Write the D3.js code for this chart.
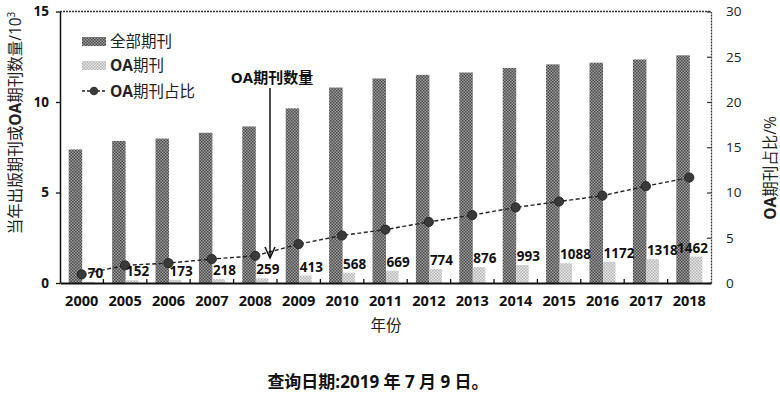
<!DOCTYPE html>
<html>
<head>
<meta charset="utf-8">
<script src="https://cdn.jsdelivr.net/npm/d3@7"></script>
<style>
  body { margin: 0; background: #fff; }
  svg text { font-family: "Open Sans", "Noto Sans CJK SC", sans-serif; }
</style>
</head>
<body>
<svg id="chart" width="780" height="393"></svg>
<script>
// values
var years = ["2000", "2005", "2006", "2007", "2008", "2009", "2010", "2011",
             "2012", "2013", "2014", "2015", "2016", "2017", "2018"];
var allJournals = [7.38, 7.85, 7.98, 8.3, 8.65, 9.65, 10.8, 11.3,
                   11.5, 11.63, 11.88, 12.08, 12.17, 12.35, 12.58];   // x10^3
var oaJournals = [70, 152, 173, 218, 259, 413, 568, 669,
                  774, 876, 993, 1088, 1172, 1318, 1462];
var oaShare = [0.95, 1.95, 2.2, 2.65, 3.0, 4.3, 5.25, 5.9,
               6.75, 7.5, 8.35, 9.0, 9.65, 10.7, 11.65];              // %
var leftTicks = [0, 5, 10, 15];
var rightTicks = [0, 5, 10, 15, 20, 25, 30];

var svg = d3.select("#chart");
var plotLeft = 60, plotRight = 711, plotTop = 11.5, plotBottom = 283;

var defs = svg.append("defs");
var dark = defs.append("pattern").attr("id", "darkFill")
    .attr("patternUnits", "userSpaceOnUse").attr("width", 3).attr("height", 3);
dark.append("rect").attr("width", 3).attr("height", 3).attr("fill", "#a0a0a0");
dark.append("path").attr("d", "M0,0h1.5v1.5h-1.5z M1.5,1.5h1.5v1.5h-1.5z").attr("fill", "#484848");

var light = defs.append("pattern").attr("id", "lightFill")
    .attr("patternUnits", "userSpaceOnUse").attr("width", 3).attr("height", 3);
light.append("rect").attr("width", 3).attr("height", 3).attr("fill", "#e8e8e8");
light.append("path").attr("d", "M0,0h1.5v1.5h-1.5z M1.5,1.5h1.5v1.5h-1.5z").attr("fill", "#b4b4b4");

var x = d3.scaleBand().domain(years).range([plotLeft, plotRight]);
var inner = d3.scaleBand().domain(["all", "oa"]).range([-13, 14]);
var y = d3.scaleLinear().domain([0, 15]).range([plotBottom, plotTop]);
var y2 = d3.scaleLinear().domain([0, 30]).range([plotBottom, plotTop]);

function mid(i) { return x(years[i]) + x.bandwidth() / 2; }

// bars
svg.append("g").selectAll("rect").data(allJournals).join("rect")
    .attr("x", function(d, i) { return mid(i) + inner("all"); })
    .attr("width", inner.bandwidth())
    .attr("y", function(d) { return y(d); })
    .attr("height", function(d) { return y(0) - y(d); })
    .attr("fill", "url(#darkFill)");

svg.append("g").selectAll("rect").data(oaJournals).join("rect")
    .attr("x", function(d, i) { return mid(i) + inner("oa"); })
    .attr("width", inner.bandwidth() - 1)
    .attr("y", function(d) { return y(d / 1000); })
    .attr("height", function(d) { return y(0) - y(d / 1000); })
    .attr("fill", "url(#lightFill)");

// share line
var line = d3.line()
    .x(function(d, i) { return mid(i); })
    .y(function(d) { return y2(d); });
svg.append("path").datum(oaShare)
    .attr("d", line)
    .attr("fill", "none")
    .attr("stroke", "#222")
    .attr("stroke-width", 1.4)
    .attr("stroke-dasharray", "4,2.5");
svg.append("g").selectAll("circle").data(oaShare).join("circle")
    .attr("cx", function(d, i) { return mid(i); })
    .attr("cy", function(d) { return y2(d); })
    .attr("r", 4.6)
    .attr("fill", "#3a3a3a")
    .attr("stroke", "#1a1a1a")
    .attr("stroke-width", 0.8);

// OA count labels (the last one is pulled in so it stays inside the frame)
var last = oaJournals.length - 1;
svg.append("g").selectAll("text").data(oaJournals).join("text")
    .attr("x", function(d, i) {
        if (i === last) return plotRight - 3;
        return mid(i) + (i === 0 ? 6 : 1);
    })
    .attr("text-anchor", function(d, i) { return i === last ? "end" : "start"; })
    .attr("y", function(d) { return y(d / 1000) - 4; })
    .attr("font-size", 13.5)
    .attr("font-weight", "bold")
    .attr("fill", "#111")
    .text(function(d) { return d; });

// axes
var axisL = d3.axisLeft(y).tickValues(leftTicks).tickSize(4).tickSizeOuter(0);
var gl = svg.append("g").attr("transform", "translate(" + plotLeft + ",0)").call(axisL);
gl.select(".domain").attr("stroke", "#111").attr("stroke-width", 1.5);
gl.selectAll(".tick line").attr("stroke", "#111").attr("stroke-width", 1.3);
gl.selectAll("text").attr("font-size", 13.5).attr("font-weight", "bold")
    .attr("fill", "#111").attr("x", -11);

var axisR = d3.axisRight(y2).tickValues(rightTicks).tickSize(-4).tickSizeOuter(0);
var gr = svg.append("g").attr("transform", "translate(" + plotRight + ",0)").call(axisR);
gr.select(".domain").attr("stroke", "#333").attr("stroke-width", 1.3).attr("stroke-dasharray", "2,1");
gr.selectAll(".tick line").attr("stroke", "#333").attr("stroke-width", 1.2);
gr.selectAll("text").attr("font-size", 13.5).attr("fill", "#222").attr("x", 15);

var boundaries = years.slice(1).map(function(d) { return x(d); });
var axisB = d3.axisBottom(x).tickSize(0).tickSizeOuter(0).tickPadding(13);
var gb = svg.append("g").attr("transform", "translate(0," + plotBottom + ")").call(axisB);
gb.select(".domain").attr("stroke", "#111").attr("stroke-width", 1.8);
gb.selectAll("text").attr("font-size", 14.5).attr("font-weight", "bold").attr("fill", "#111");
gb.selectAll("line.sep").data(boundaries).join("line").attr("class", "sep")
    .attr("x1", function(d) { return d; }).attr("x2", function(d) { return d; })
    .attr("y1", 0).attr("y2", -4)
    .attr("stroke", "#111").attr("stroke-width", 1.3);

// dotted top frame
svg.append("line")
    .attr("x1", plotLeft).attr("x2", plotRight).attr("y1", plotTop).attr("y2", plotTop)
    .attr("stroke", "#333").attr("stroke-width", 1.3).attr("stroke-dasharray", "2,1");

// axis titles
svg.append("text")
    .attr("transform", "translate(21,123) rotate(-90)")
    .attr("text-anchor", "middle")
    .attr("font-size", 15.5)
    .attr("fill", "#222")
    .html('当年出版期刊或<tspan font-weight="bold">OA</tspan>期刊数量/10<tspan dy="-6" font-size="10">3</tspan>');

svg.append("text")
    .attr("transform", "translate(776,168) rotate(-90)")
    .attr("text-anchor", "middle")
    .attr("font-size", 15.5)
    .attr("fill", "#222")
    .html('<tspan font-weight="bold">OA</tspan>期刊占比/%');

svg.append("text")
    .attr("x", 386).attr("y", 331)
    .attr("text-anchor", "middle")
    .attr("font-size", 15.5)
    .attr("fill", "#222")
    .text("年份");

// annotation arrow
var ax = x("2008") + x.bandwidth() - 7;
svg.append("text")
    .attr("x", ax + 2).attr("y", 83)
    .attr("text-anchor", "middle")
    .attr("font-size", 15)
    .attr("font-weight", "bold")
    .attr("fill", "#111")
    .text("OA期刊数量");
svg.append("line")
    .attr("x1", ax).attr("x2", ax).attr("y1", 88).attr("y2", 257)
    .attr("stroke", "#111").attr("stroke-width", 1.5);
svg.append("path")
    .attr("d", "M" + (ax - 5) + ",247 L" + ax + ",258 L" + (ax + 5) + ",247")
    .attr("fill", "none").attr("stroke", "#111").attr("stroke-width", 1.5);

// legend
var legend = svg.append("g").attr("transform", "translate(82,0)");
legend.append("rect").attr("x", 0).attr("y", 37).attr("width", 24).attr("height", 9).attr("fill", "url(#darkFill)");
legend.append("rect").attr("x", 0).attr("y", 61).attr("width", 24).attr("height", 9).attr("fill", "url(#lightFill)");
legend.append("line").attr("x1", 0).attr("x2", 24).attr("y1", 91).attr("y2", 91)
    .attr("stroke", "#222").attr("stroke-width", 1.3).attr("stroke-dasharray", "3,2");
legend.append("circle").attr("cx", 12).attr("cy", 91).attr("r", 4.3).attr("fill", "#3a3a3a");
legend.append("text").attr("x", 28).attr("y", 47).attr("font-size", 15.5).attr("fill", "#222").text("全部期刊");
legend.append("text").attr("x", 28).attr("y", 71).attr("font-size", 15.5).attr("fill", "#222")
    .html('<tspan font-weight="bold">OA</tspan>期刊');
legend.append("text").attr("x", 28).attr("y", 97).attr("font-size", 15.5).attr("fill", "#222")
    .html('<tspan font-weight="bold">OA</tspan>期刊占比');

// caption
svg.append("text")
    .attr("x", 378).attr("y", 388)
    .attr("text-anchor", "middle")
    .attr("font-size", 17)
    .attr("font-family", "'Liberation Serif', 'Noto Sans CJK SC', serif")
    .attr("font-weight", "bold")
    .attr("fill", "#111")
    .text("查询日期:2019 年 7 月 9 日。");
</script>
</body>
</html>
